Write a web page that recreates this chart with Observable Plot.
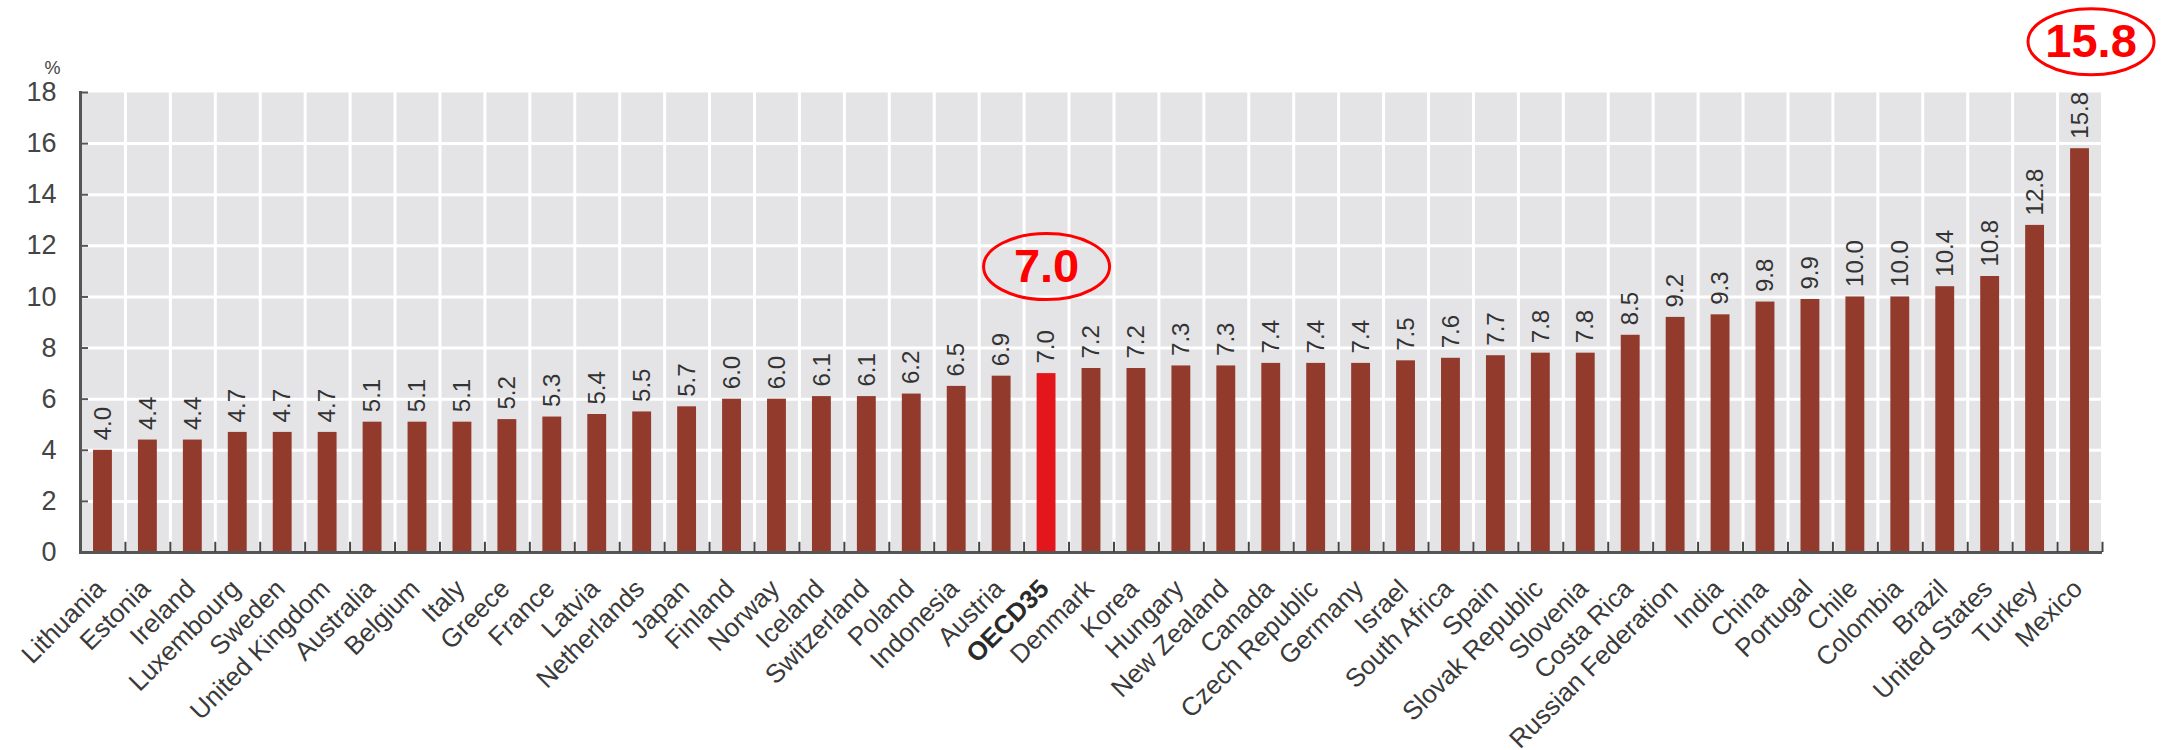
<!DOCTYPE html>
<html>
<head>
<meta charset="utf-8">
<script src="https://cdn.jsdelivr.net/npm/d3@7"></script>
<script src="https://cdn.jsdelivr.net/npm/@observablehq/plot@0.6"></script>
<style>
  html, body { margin: 0; padding: 0; background: #fff; }
  #chart { width: 2164px; height: 750px; }
</style>
</head>
<body>
<div id="chart"></div>
<script>
// ---- data ----
const countries = [
  "Lithuania","Estonia","Ireland","Luxembourg","Sweden","United Kingdom","Australia","Belgium","Italy","Greece",
  "France","Latvia","Netherlands","Japan","Finland","Norway","Iceland","Switzerland","Poland","Indonesia",
  "Austria","OECD35","Denmark","Korea","Hungary","New Zealand","Canada","Czech Republic","Germany","Israel",
  "South Africa","Spain","Slovak Republic","Slovenia","Costa Rica","Russian Federation","India","China","Portugal","Chile",
  "Colombia","Brazil","United States","Turkey","Mexico"
];
const values = [
  4.0,4.4,4.4,4.7,4.7,4.7,5.1,5.1,5.1,5.2,
  5.3,5.4,5.5,5.7,6.0,6.0,6.1,6.1,6.2,6.5,
  6.9,7.0,7.2,7.2,7.3,7.3,7.4,7.4,7.4,7.5,
  7.6,7.7,7.8,7.8,8.5,9.2,9.3,9.8,9.9,10.0,
  10.0,10.4,10.8,12.8,15.8
];
const yTicks = [0,2,4,6,8,10,12,14,16,18];
const highlight = "OECD35";
const annotatedLeft = ["OECD35"];
const annotatedRight = ["Mexico"];
const unitLabel = ["%"];

// ---- build ----
const data = countries.map((c, i) => ({country: c, value: values[i]}));
const notesLeft = data.filter(d => annotatedLeft.includes(d.country));
const notesRight = data.filter(d => annotatedRight.includes(d.country));

const W = 2164, H = 750, ML = 80, MR = 62, MT = 92, MB = 198;
const step = (W - ML - MR) / countries.length;
const font = "'Liberation Sans', Arial, Helvetica, sans-serif";
const fmt = d3.format(".1f");

const ellipse = {
  draw(ctx) {
    const a = 63, b = 33, k = 0.5523;
    ctx.moveTo(a, 0);
    ctx.bezierCurveTo(a, b * k, a * k, b, 0, b);
    ctx.bezierCurveTo(-a * k, b, -a, b * k, -a, 0);
    ctx.bezierCurveTo(-a, -b * k, -a * k, -b, 0, -b);
    ctx.bezierCurveTo(a * k, -b, a, -b * k, a, 0);
    ctx.closePath();
  }
};

function annotation(notes, dx) {
  return [
    Plot.dot(notes, {x: "country", y: "value", dy: -107, dx, symbol: ellipse, r: 10,
      stroke: "#ff0000", strokeWidth: 3, fill: "none"}),
    Plot.text(notes, {x: "country", y: "value", text: d => fmt(d.value), dy: -107, dx,
      fontSize: 47, fontWeight: "bold", fill: "#ff0000", lineAnchor: "middle"})
  ];
}

const chart = Plot.plot({
  width: W, height: H,
  marginLeft: ML, marginRight: MR, marginTop: MT, marginBottom: MB,
  style: {fontFamily: font, background: "#fff", color: "#333", overflow: "visible"},
  x: {type: "band", domain: countries, paddingInner: 0.58, paddingOuter: 0.29, axis: null},
  y: {domain: [0, 18], axis: null},
  marks: [
    Plot.frame({fill: "#e4e4e7", stroke: null}),
    Plot.ruleY(yTicks.filter(v => v > 0 && v < 18), {stroke: "#fff", strokeWidth: 3}),
    Plot.ruleX(countries, {x: d => d, dx: step / 2, stroke: "#fff", strokeWidth: 3}),
    Plot.barY(data, {x: "country", y: "value", fill: d => d.country === highlight ? "#e3161c" : "#923a2b"}),
    Plot.text(data, {x: "country", y: "value", text: d => fmt(d.value), rotate: -90,
      textAnchor: "start", lineAnchor: "middle", dy: -10, fontSize: 24, fill: "#333"}),
    // axes
    Plot.axisY({ticks: yTicks, tickSize: 0, tickPadding: 24, fontSize: 27, fill: "#444", label: null}),
    Plot.axisY({ticks: yTicks, tickSize: 8, dx: 8, text: null, stroke: "#555", strokeWidth: 2, label: null}),
    Plot.ruleY([0], {stroke: "#555", strokeWidth: 3}),
    Plot.frame({anchor: "left", stroke: "#555", strokeWidth: 3}),
    Plot.ruleX(countries, {x: d => d, dx: step / 2, y1: 0, y2: 0.4, stroke: "#444", strokeWidth: 2}),
    Plot.text(unitLabel, {frameAnchor: "top-left", dx: -36, dy: -31, fontSize: 18, fill: "#444"}),
    Plot.text(countries.filter(c => c !== highlight), {x: d => d, frameAnchor: "bottom", rotate: -45,
      textAnchor: "end", lineAnchor: "middle", dy: 32, dx: -2, fontSize: 26, fill: "#3a3a3a"}),
    Plot.text([highlight], {x: d => d, frameAnchor: "bottom", rotate: -45,
      textAnchor: "end", lineAnchor: "middle", dy: 32, dx: -2, fontSize: 26, fontWeight: "bold", fill: "#2a2a2a"}),
    // annotations
    ...annotation(notesLeft, 0),
    ...annotation(notesRight, 11)
  ]
});
document.getElementById("chart").appendChild(chart);
</script>
</body>
</html>
